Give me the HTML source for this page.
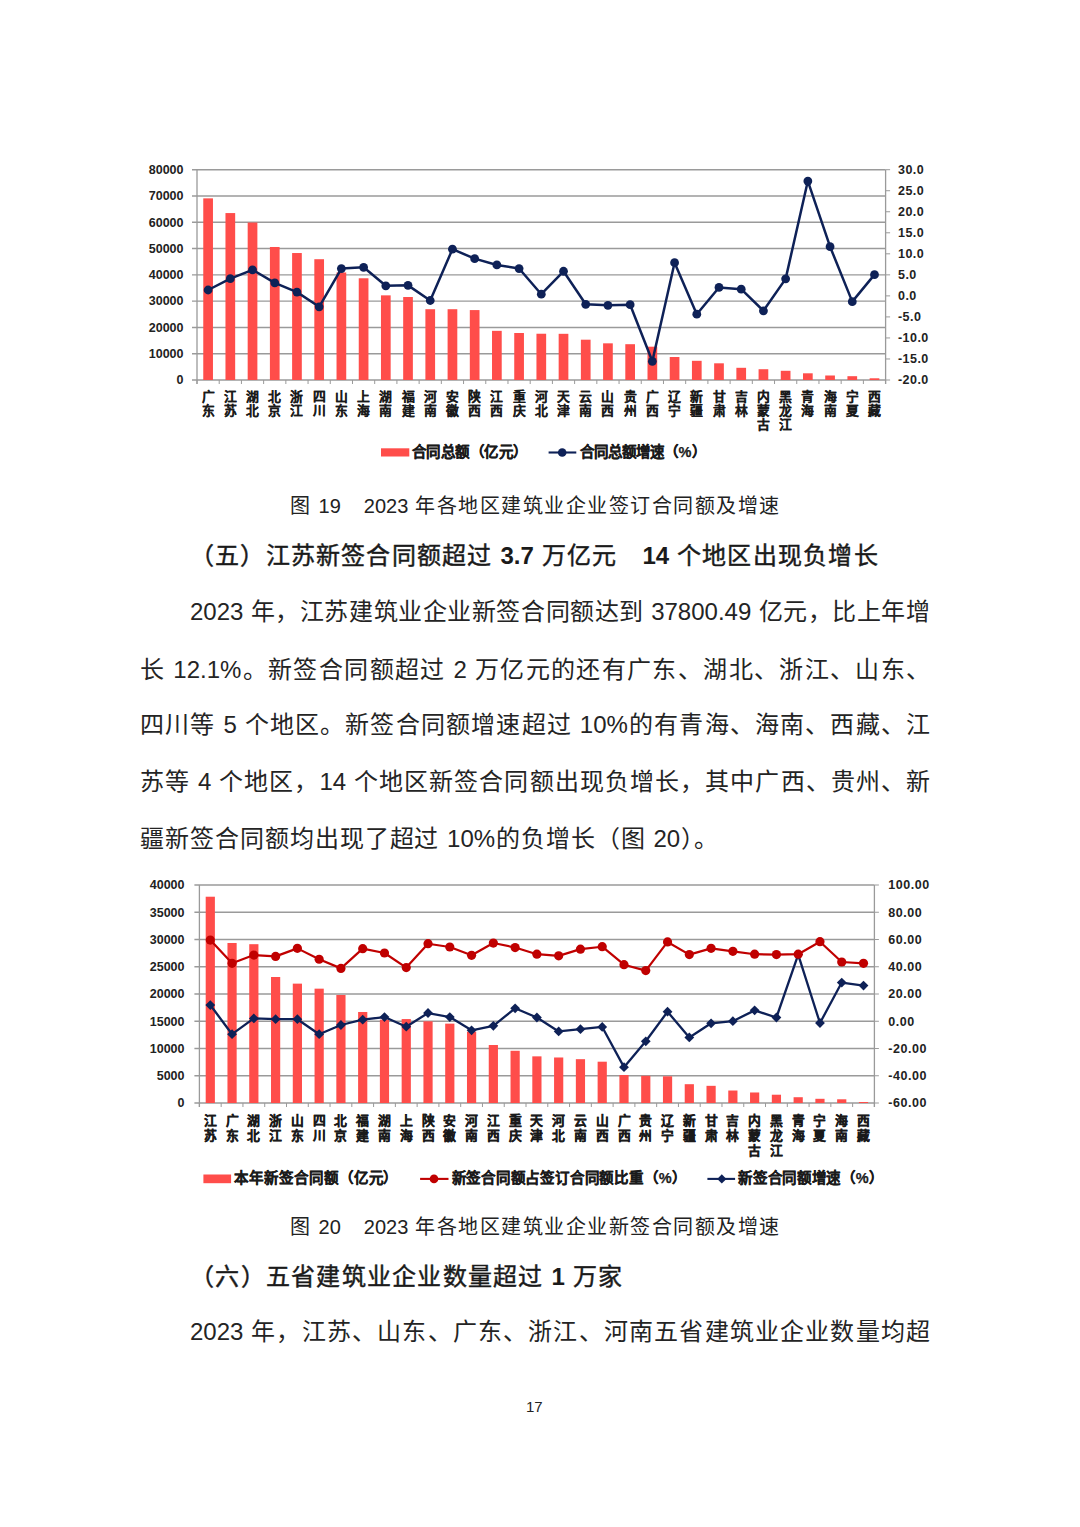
<!DOCTYPE html>
<html lang="zh-CN"><head><meta charset="utf-8">
<style>
html,body{margin:0;padding:0;background:#fff;}
body{width:1080px;height:1527px;position:relative;overflow:hidden;font-family:"Liberation Sans",sans-serif;color:#1a1a1a;}
svg{position:absolute;left:0;top:0;font-family:"Liberation Sans",sans-serif;}
.body{position:absolute;font-size:24px;line-height:30px;white-space:nowrap;color:#242424;}
.h b{-webkit-text-stroke:0;font-weight:bold;}
.cap{position:absolute;font-size:20px;line-height:26px;white-space:nowrap;color:#222;}
.h{position:absolute;font-size:24px;line-height:30px;white-space:nowrap;font-weight:normal;-webkit-text-stroke:0.45px #1a1a1a;color:#1a1a1a;}
.pn{position:absolute;font-size:15px;line-height:20px;white-space:nowrap;color:#222;}
</style></head><body>
<svg width="1080" height="1527" viewBox="0 0 1080 1527">
<line x1="192" y1="169.70" x2="885.6" y2="169.70" stroke="#9A9A9A" stroke-width="1.4"/>
<line x1="192" y1="195.99" x2="885.6" y2="195.99" stroke="#9A9A9A" stroke-width="1.4"/>
<line x1="192" y1="222.27" x2="885.6" y2="222.27" stroke="#9A9A9A" stroke-width="1.4"/>
<line x1="192" y1="248.56" x2="885.6" y2="248.56" stroke="#9A9A9A" stroke-width="1.4"/>
<line x1="192" y1="274.85" x2="885.6" y2="274.85" stroke="#9A9A9A" stroke-width="1.4"/>
<line x1="192" y1="301.14" x2="885.6" y2="301.14" stroke="#9A9A9A" stroke-width="1.4"/>
<line x1="192" y1="327.43" x2="885.6" y2="327.43" stroke="#9A9A9A" stroke-width="1.4"/>
<line x1="192" y1="353.71" x2="885.6" y2="353.71" stroke="#9A9A9A" stroke-width="1.4"/>
<line x1="192" y1="380.00" x2="885.6" y2="380.00" stroke="#9A9A9A" stroke-width="1.4"/>
<line x1="885.6" y1="169.70" x2="890.1" y2="169.70" stroke="#9A9A9A" stroke-width="1"/>
<line x1="885.6" y1="190.73" x2="890.1" y2="190.73" stroke="#9A9A9A" stroke-width="1"/>
<line x1="885.6" y1="211.76" x2="890.1" y2="211.76" stroke="#9A9A9A" stroke-width="1"/>
<line x1="885.6" y1="232.79" x2="890.1" y2="232.79" stroke="#9A9A9A" stroke-width="1"/>
<line x1="885.6" y1="253.82" x2="890.1" y2="253.82" stroke="#9A9A9A" stroke-width="1"/>
<line x1="885.6" y1="274.85" x2="890.1" y2="274.85" stroke="#9A9A9A" stroke-width="1"/>
<line x1="885.6" y1="295.88" x2="890.1" y2="295.88" stroke="#9A9A9A" stroke-width="1"/>
<line x1="885.6" y1="316.91" x2="890.1" y2="316.91" stroke="#9A9A9A" stroke-width="1"/>
<line x1="885.6" y1="337.94" x2="890.1" y2="337.94" stroke="#9A9A9A" stroke-width="1"/>
<line x1="885.6" y1="358.97" x2="890.1" y2="358.97" stroke="#9A9A9A" stroke-width="1"/>
<line x1="885.6" y1="380.00" x2="890.1" y2="380.00" stroke="#9A9A9A" stroke-width="1"/>
<line x1="197" y1="169.7" x2="197" y2="384.0" stroke="#9A9A9A" stroke-width="1.3"/>
<line x1="885.6" y1="169.7" x2="885.6" y2="384.0" stroke="#9A9A9A" stroke-width="1.3"/>
<line x1="197.00" y1="380.0" x2="197.00" y2="384.0" stroke="#9A9A9A" stroke-width="1"/>
<line x1="219.21" y1="380.0" x2="219.21" y2="384.0" stroke="#9A9A9A" stroke-width="1"/>
<line x1="241.43" y1="380.0" x2="241.43" y2="384.0" stroke="#9A9A9A" stroke-width="1"/>
<line x1="263.64" y1="380.0" x2="263.64" y2="384.0" stroke="#9A9A9A" stroke-width="1"/>
<line x1="285.85" y1="380.0" x2="285.85" y2="384.0" stroke="#9A9A9A" stroke-width="1"/>
<line x1="308.06" y1="380.0" x2="308.06" y2="384.0" stroke="#9A9A9A" stroke-width="1"/>
<line x1="330.28" y1="380.0" x2="330.28" y2="384.0" stroke="#9A9A9A" stroke-width="1"/>
<line x1="352.49" y1="380.0" x2="352.49" y2="384.0" stroke="#9A9A9A" stroke-width="1"/>
<line x1="374.70" y1="380.0" x2="374.70" y2="384.0" stroke="#9A9A9A" stroke-width="1"/>
<line x1="396.92" y1="380.0" x2="396.92" y2="384.0" stroke="#9A9A9A" stroke-width="1"/>
<line x1="419.13" y1="380.0" x2="419.13" y2="384.0" stroke="#9A9A9A" stroke-width="1"/>
<line x1="441.34" y1="380.0" x2="441.34" y2="384.0" stroke="#9A9A9A" stroke-width="1"/>
<line x1="463.55" y1="380.0" x2="463.55" y2="384.0" stroke="#9A9A9A" stroke-width="1"/>
<line x1="485.77" y1="380.0" x2="485.77" y2="384.0" stroke="#9A9A9A" stroke-width="1"/>
<line x1="507.98" y1="380.0" x2="507.98" y2="384.0" stroke="#9A9A9A" stroke-width="1"/>
<line x1="530.19" y1="380.0" x2="530.19" y2="384.0" stroke="#9A9A9A" stroke-width="1"/>
<line x1="552.41" y1="380.0" x2="552.41" y2="384.0" stroke="#9A9A9A" stroke-width="1"/>
<line x1="574.62" y1="380.0" x2="574.62" y2="384.0" stroke="#9A9A9A" stroke-width="1"/>
<line x1="596.83" y1="380.0" x2="596.83" y2="384.0" stroke="#9A9A9A" stroke-width="1"/>
<line x1="619.05" y1="380.0" x2="619.05" y2="384.0" stroke="#9A9A9A" stroke-width="1"/>
<line x1="641.26" y1="380.0" x2="641.26" y2="384.0" stroke="#9A9A9A" stroke-width="1"/>
<line x1="663.47" y1="380.0" x2="663.47" y2="384.0" stroke="#9A9A9A" stroke-width="1"/>
<line x1="685.68" y1="380.0" x2="685.68" y2="384.0" stroke="#9A9A9A" stroke-width="1"/>
<line x1="707.90" y1="380.0" x2="707.90" y2="384.0" stroke="#9A9A9A" stroke-width="1"/>
<line x1="730.11" y1="380.0" x2="730.11" y2="384.0" stroke="#9A9A9A" stroke-width="1"/>
<line x1="752.32" y1="380.0" x2="752.32" y2="384.0" stroke="#9A9A9A" stroke-width="1"/>
<line x1="774.54" y1="380.0" x2="774.54" y2="384.0" stroke="#9A9A9A" stroke-width="1"/>
<line x1="796.75" y1="380.0" x2="796.75" y2="384.0" stroke="#9A9A9A" stroke-width="1"/>
<line x1="818.96" y1="380.0" x2="818.96" y2="384.0" stroke="#9A9A9A" stroke-width="1"/>
<line x1="841.17" y1="380.0" x2="841.17" y2="384.0" stroke="#9A9A9A" stroke-width="1"/>
<line x1="863.39" y1="380.0" x2="863.39" y2="384.0" stroke="#9A9A9A" stroke-width="1"/>
<line x1="885.60" y1="380.0" x2="885.60" y2="384.0" stroke="#9A9A9A" stroke-width="1"/>
<rect x="203.26" y="198.35" width="9.7" height="181.65" fill="#FF4D4A"/>
<rect x="225.47" y="213.07" width="9.7" height="166.93" fill="#FF4D4A"/>
<rect x="247.68" y="222.54" width="9.7" height="157.46" fill="#FF4D4A"/>
<rect x="269.90" y="246.99" width="9.7" height="133.01" fill="#FF4D4A"/>
<rect x="292.11" y="253.03" width="9.7" height="126.97" fill="#FF4D4A"/>
<rect x="314.32" y="259.21" width="9.7" height="120.79" fill="#FF4D4A"/>
<rect x="336.53" y="272.48" width="9.7" height="107.52" fill="#FF4D4A"/>
<rect x="358.75" y="278.27" width="9.7" height="101.73" fill="#FF4D4A"/>
<rect x="380.96" y="295.35" width="9.7" height="84.65" fill="#FF4D4A"/>
<rect x="403.17" y="297.01" width="9.7" height="82.99" fill="#FF4D4A"/>
<rect x="425.39" y="309.21" width="9.7" height="70.79" fill="#FF4D4A"/>
<rect x="447.60" y="309.21" width="9.7" height="70.79" fill="#FF4D4A"/>
<rect x="469.81" y="310.08" width="9.7" height="69.92" fill="#FF4D4A"/>
<rect x="492.02" y="330.84" width="9.7" height="49.16" fill="#FF4D4A"/>
<rect x="514.24" y="333.00" width="9.7" height="47.00" fill="#FF4D4A"/>
<rect x="536.45" y="333.73" width="9.7" height="46.27" fill="#FF4D4A"/>
<rect x="558.66" y="333.81" width="9.7" height="46.19" fill="#FF4D4A"/>
<rect x="580.88" y="339.70" width="9.7" height="40.30" fill="#FF4D4A"/>
<rect x="603.09" y="343.33" width="9.7" height="36.67" fill="#FF4D4A"/>
<rect x="625.30" y="344.20" width="9.7" height="35.80" fill="#FF4D4A"/>
<rect x="647.51" y="346.69" width="9.7" height="33.31" fill="#FF4D4A"/>
<rect x="669.73" y="357.00" width="9.7" height="23.00" fill="#FF4D4A"/>
<rect x="691.94" y="360.81" width="9.7" height="19.19" fill="#FF4D4A"/>
<rect x="714.15" y="363.31" width="9.7" height="16.69" fill="#FF4D4A"/>
<rect x="736.37" y="367.80" width="9.7" height="12.20" fill="#FF4D4A"/>
<rect x="758.58" y="369.22" width="9.7" height="10.78" fill="#FF4D4A"/>
<rect x="780.79" y="370.80" width="9.7" height="9.20" fill="#FF4D4A"/>
<rect x="803.00" y="373.30" width="9.7" height="6.70" fill="#FF4D4A"/>
<rect x="825.22" y="375.50" width="9.7" height="4.50" fill="#FF4D4A"/>
<rect x="847.43" y="376.19" width="9.7" height="3.81" fill="#FF4D4A"/>
<rect x="869.64" y="378.29" width="9.7" height="1.71" fill="#FF4D4A"/>
<polyline points="208.11,289.99 230.32,278.64 252.53,269.80 274.75,282.84 296.96,292.09 319.17,306.82 341.38,268.54 363.60,267.28 385.81,285.79 408.02,285.37 430.24,300.51 452.45,249.19 474.66,258.66 496.87,264.97 519.09,268.54 541.30,294.20 563.51,271.27 585.73,304.29 607.94,305.34 630.15,304.71 652.36,361.28 674.58,262.65 696.79,314.18 719.00,287.47 741.22,289.15 763.43,310.81 785.64,278.85 807.85,181.06 830.07,246.67 852.28,301.64 874.49,274.64" fill="none" stroke="#0E2157" stroke-width="2.5" stroke-linejoin="round"/>
<circle cx="208.11" cy="289.99" r="4.4" fill="#0E2157"/>
<circle cx="230.32" cy="278.64" r="4.4" fill="#0E2157"/>
<circle cx="252.53" cy="269.80" r="4.4" fill="#0E2157"/>
<circle cx="274.75" cy="282.84" r="4.4" fill="#0E2157"/>
<circle cx="296.96" cy="292.09" r="4.4" fill="#0E2157"/>
<circle cx="319.17" cy="306.82" r="4.4" fill="#0E2157"/>
<circle cx="341.38" cy="268.54" r="4.4" fill="#0E2157"/>
<circle cx="363.60" cy="267.28" r="4.4" fill="#0E2157"/>
<circle cx="385.81" cy="285.79" r="4.4" fill="#0E2157"/>
<circle cx="408.02" cy="285.37" r="4.4" fill="#0E2157"/>
<circle cx="430.24" cy="300.51" r="4.4" fill="#0E2157"/>
<circle cx="452.45" cy="249.19" r="4.4" fill="#0E2157"/>
<circle cx="474.66" cy="258.66" r="4.4" fill="#0E2157"/>
<circle cx="496.87" cy="264.97" r="4.4" fill="#0E2157"/>
<circle cx="519.09" cy="268.54" r="4.4" fill="#0E2157"/>
<circle cx="541.30" cy="294.20" r="4.4" fill="#0E2157"/>
<circle cx="563.51" cy="271.27" r="4.4" fill="#0E2157"/>
<circle cx="585.73" cy="304.29" r="4.4" fill="#0E2157"/>
<circle cx="607.94" cy="305.34" r="4.4" fill="#0E2157"/>
<circle cx="630.15" cy="304.71" r="4.4" fill="#0E2157"/>
<circle cx="652.36" cy="361.28" r="4.4" fill="#0E2157"/>
<circle cx="674.58" cy="262.65" r="4.4" fill="#0E2157"/>
<circle cx="696.79" cy="314.18" r="4.4" fill="#0E2157"/>
<circle cx="719.00" cy="287.47" r="4.4" fill="#0E2157"/>
<circle cx="741.22" cy="289.15" r="4.4" fill="#0E2157"/>
<circle cx="763.43" cy="310.81" r="4.4" fill="#0E2157"/>
<circle cx="785.64" cy="278.85" r="4.4" fill="#0E2157"/>
<circle cx="807.85" cy="181.06" r="4.4" fill="#0E2157"/>
<circle cx="830.07" cy="246.67" r="4.4" fill="#0E2157"/>
<circle cx="852.28" cy="301.64" r="4.4" fill="#0E2157"/>
<circle cx="874.49" cy="274.64" r="4.4" fill="#0E2157"/>
<text x="183.5" y="384.30" text-anchor="end" font-size="12.5" font-weight="bold" fill="#222">0</text>
<text x="183.5" y="358.01" text-anchor="end" font-size="12.5" font-weight="bold" fill="#222">10000</text>
<text x="183.5" y="331.73" text-anchor="end" font-size="12.5" font-weight="bold" fill="#222">20000</text>
<text x="183.5" y="305.44" text-anchor="end" font-size="12.5" font-weight="bold" fill="#222">30000</text>
<text x="183.5" y="279.15" text-anchor="end" font-size="12.5" font-weight="bold" fill="#222">40000</text>
<text x="183.5" y="252.86" text-anchor="end" font-size="12.5" font-weight="bold" fill="#222">50000</text>
<text x="183.5" y="226.57" text-anchor="end" font-size="12.5" font-weight="bold" fill="#222">60000</text>
<text x="183.5" y="200.29" text-anchor="end" font-size="12.5" font-weight="bold" fill="#222">70000</text>
<text x="183.5" y="174.00" text-anchor="end" font-size="12.5" font-weight="bold" fill="#222">80000</text>
<text x="898" y="174.00" font-size="12.5" font-weight="bold" letter-spacing="0.45" fill="#222">30.0</text>
<text x="898" y="195.03" font-size="12.5" font-weight="bold" letter-spacing="0.45" fill="#222">25.0</text>
<text x="898" y="216.06" font-size="12.5" font-weight="bold" letter-spacing="0.45" fill="#222">20.0</text>
<text x="898" y="237.09" font-size="12.5" font-weight="bold" letter-spacing="0.45" fill="#222">15.0</text>
<text x="898" y="258.12" font-size="12.5" font-weight="bold" letter-spacing="0.45" fill="#222">10.0</text>
<text x="898" y="279.15" font-size="12.5" font-weight="bold" letter-spacing="0.45" fill="#222">5.0</text>
<text x="898" y="300.18" font-size="12.5" font-weight="bold" letter-spacing="0.45" fill="#222">0.0</text>
<text x="898" y="321.21" font-size="12.5" font-weight="bold" letter-spacing="0.45" fill="#222">-5.0</text>
<text x="898" y="342.24" font-size="12.5" font-weight="bold" letter-spacing="0.45" fill="#222">-10.0</text>
<text x="898" y="363.27" font-size="12.5" font-weight="bold" letter-spacing="0.45" fill="#222">-15.0</text>
<text x="898" y="384.30" font-size="12.5" font-weight="bold" letter-spacing="0.45" fill="#222">-20.0</text>
<text x="208.11" y="400.80" text-anchor="middle" font-size="12.8" font-weight="bold" fill="#1a1a1a" stroke="#1a1a1a" stroke-width="0.15">广</text>
<text x="208.11" y="415.00" text-anchor="middle" font-size="12.8" font-weight="bold" fill="#1a1a1a" stroke="#1a1a1a" stroke-width="0.15">东</text>
<text x="230.32" y="400.80" text-anchor="middle" font-size="12.8" font-weight="bold" fill="#1a1a1a" stroke="#1a1a1a" stroke-width="0.15">江</text>
<text x="230.32" y="415.00" text-anchor="middle" font-size="12.8" font-weight="bold" fill="#1a1a1a" stroke="#1a1a1a" stroke-width="0.15">苏</text>
<text x="252.53" y="400.80" text-anchor="middle" font-size="12.8" font-weight="bold" fill="#1a1a1a" stroke="#1a1a1a" stroke-width="0.15">湖</text>
<text x="252.53" y="415.00" text-anchor="middle" font-size="12.8" font-weight="bold" fill="#1a1a1a" stroke="#1a1a1a" stroke-width="0.15">北</text>
<text x="274.75" y="400.80" text-anchor="middle" font-size="12.8" font-weight="bold" fill="#1a1a1a" stroke="#1a1a1a" stroke-width="0.15">北</text>
<text x="274.75" y="415.00" text-anchor="middle" font-size="12.8" font-weight="bold" fill="#1a1a1a" stroke="#1a1a1a" stroke-width="0.15">京</text>
<text x="296.96" y="400.80" text-anchor="middle" font-size="12.8" font-weight="bold" fill="#1a1a1a" stroke="#1a1a1a" stroke-width="0.15">浙</text>
<text x="296.96" y="415.00" text-anchor="middle" font-size="12.8" font-weight="bold" fill="#1a1a1a" stroke="#1a1a1a" stroke-width="0.15">江</text>
<text x="319.17" y="400.80" text-anchor="middle" font-size="12.8" font-weight="bold" fill="#1a1a1a" stroke="#1a1a1a" stroke-width="0.15">四</text>
<text x="319.17" y="415.00" text-anchor="middle" font-size="12.8" font-weight="bold" fill="#1a1a1a" stroke="#1a1a1a" stroke-width="0.15">川</text>
<text x="341.38" y="400.80" text-anchor="middle" font-size="12.8" font-weight="bold" fill="#1a1a1a" stroke="#1a1a1a" stroke-width="0.15">山</text>
<text x="341.38" y="415.00" text-anchor="middle" font-size="12.8" font-weight="bold" fill="#1a1a1a" stroke="#1a1a1a" stroke-width="0.15">东</text>
<text x="363.60" y="400.80" text-anchor="middle" font-size="12.8" font-weight="bold" fill="#1a1a1a" stroke="#1a1a1a" stroke-width="0.15">上</text>
<text x="363.60" y="415.00" text-anchor="middle" font-size="12.8" font-weight="bold" fill="#1a1a1a" stroke="#1a1a1a" stroke-width="0.15">海</text>
<text x="385.81" y="400.80" text-anchor="middle" font-size="12.8" font-weight="bold" fill="#1a1a1a" stroke="#1a1a1a" stroke-width="0.15">湖</text>
<text x="385.81" y="415.00" text-anchor="middle" font-size="12.8" font-weight="bold" fill="#1a1a1a" stroke="#1a1a1a" stroke-width="0.15">南</text>
<text x="408.02" y="400.80" text-anchor="middle" font-size="12.8" font-weight="bold" fill="#1a1a1a" stroke="#1a1a1a" stroke-width="0.15">福</text>
<text x="408.02" y="415.00" text-anchor="middle" font-size="12.8" font-weight="bold" fill="#1a1a1a" stroke="#1a1a1a" stroke-width="0.15">建</text>
<text x="430.24" y="400.80" text-anchor="middle" font-size="12.8" font-weight="bold" fill="#1a1a1a" stroke="#1a1a1a" stroke-width="0.15">河</text>
<text x="430.24" y="415.00" text-anchor="middle" font-size="12.8" font-weight="bold" fill="#1a1a1a" stroke="#1a1a1a" stroke-width="0.15">南</text>
<text x="452.45" y="400.80" text-anchor="middle" font-size="12.8" font-weight="bold" fill="#1a1a1a" stroke="#1a1a1a" stroke-width="0.15">安</text>
<text x="452.45" y="415.00" text-anchor="middle" font-size="12.8" font-weight="bold" fill="#1a1a1a" stroke="#1a1a1a" stroke-width="0.15">徽</text>
<text x="474.66" y="400.80" text-anchor="middle" font-size="12.8" font-weight="bold" fill="#1a1a1a" stroke="#1a1a1a" stroke-width="0.15">陕</text>
<text x="474.66" y="415.00" text-anchor="middle" font-size="12.8" font-weight="bold" fill="#1a1a1a" stroke="#1a1a1a" stroke-width="0.15">西</text>
<text x="496.87" y="400.80" text-anchor="middle" font-size="12.8" font-weight="bold" fill="#1a1a1a" stroke="#1a1a1a" stroke-width="0.15">江</text>
<text x="496.87" y="415.00" text-anchor="middle" font-size="12.8" font-weight="bold" fill="#1a1a1a" stroke="#1a1a1a" stroke-width="0.15">西</text>
<text x="519.09" y="400.80" text-anchor="middle" font-size="12.8" font-weight="bold" fill="#1a1a1a" stroke="#1a1a1a" stroke-width="0.15">重</text>
<text x="519.09" y="415.00" text-anchor="middle" font-size="12.8" font-weight="bold" fill="#1a1a1a" stroke="#1a1a1a" stroke-width="0.15">庆</text>
<text x="541.30" y="400.80" text-anchor="middle" font-size="12.8" font-weight="bold" fill="#1a1a1a" stroke="#1a1a1a" stroke-width="0.15">河</text>
<text x="541.30" y="415.00" text-anchor="middle" font-size="12.8" font-weight="bold" fill="#1a1a1a" stroke="#1a1a1a" stroke-width="0.15">北</text>
<text x="563.51" y="400.80" text-anchor="middle" font-size="12.8" font-weight="bold" fill="#1a1a1a" stroke="#1a1a1a" stroke-width="0.15">天</text>
<text x="563.51" y="415.00" text-anchor="middle" font-size="12.8" font-weight="bold" fill="#1a1a1a" stroke="#1a1a1a" stroke-width="0.15">津</text>
<text x="585.73" y="400.80" text-anchor="middle" font-size="12.8" font-weight="bold" fill="#1a1a1a" stroke="#1a1a1a" stroke-width="0.15">云</text>
<text x="585.73" y="415.00" text-anchor="middle" font-size="12.8" font-weight="bold" fill="#1a1a1a" stroke="#1a1a1a" stroke-width="0.15">南</text>
<text x="607.94" y="400.80" text-anchor="middle" font-size="12.8" font-weight="bold" fill="#1a1a1a" stroke="#1a1a1a" stroke-width="0.15">山</text>
<text x="607.94" y="415.00" text-anchor="middle" font-size="12.8" font-weight="bold" fill="#1a1a1a" stroke="#1a1a1a" stroke-width="0.15">西</text>
<text x="630.15" y="400.80" text-anchor="middle" font-size="12.8" font-weight="bold" fill="#1a1a1a" stroke="#1a1a1a" stroke-width="0.15">贵</text>
<text x="630.15" y="415.00" text-anchor="middle" font-size="12.8" font-weight="bold" fill="#1a1a1a" stroke="#1a1a1a" stroke-width="0.15">州</text>
<text x="652.36" y="400.80" text-anchor="middle" font-size="12.8" font-weight="bold" fill="#1a1a1a" stroke="#1a1a1a" stroke-width="0.15">广</text>
<text x="652.36" y="415.00" text-anchor="middle" font-size="12.8" font-weight="bold" fill="#1a1a1a" stroke="#1a1a1a" stroke-width="0.15">西</text>
<text x="674.58" y="400.80" text-anchor="middle" font-size="12.8" font-weight="bold" fill="#1a1a1a" stroke="#1a1a1a" stroke-width="0.15">辽</text>
<text x="674.58" y="415.00" text-anchor="middle" font-size="12.8" font-weight="bold" fill="#1a1a1a" stroke="#1a1a1a" stroke-width="0.15">宁</text>
<text x="696.79" y="400.80" text-anchor="middle" font-size="12.8" font-weight="bold" fill="#1a1a1a" stroke="#1a1a1a" stroke-width="0.15">新</text>
<text x="696.79" y="415.00" text-anchor="middle" font-size="12.8" font-weight="bold" fill="#1a1a1a" stroke="#1a1a1a" stroke-width="0.15">疆</text>
<text x="719.00" y="400.80" text-anchor="middle" font-size="12.8" font-weight="bold" fill="#1a1a1a" stroke="#1a1a1a" stroke-width="0.15">甘</text>
<text x="719.00" y="415.00" text-anchor="middle" font-size="12.8" font-weight="bold" fill="#1a1a1a" stroke="#1a1a1a" stroke-width="0.15">肃</text>
<text x="741.22" y="400.80" text-anchor="middle" font-size="12.8" font-weight="bold" fill="#1a1a1a" stroke="#1a1a1a" stroke-width="0.15">吉</text>
<text x="741.22" y="415.00" text-anchor="middle" font-size="12.8" font-weight="bold" fill="#1a1a1a" stroke="#1a1a1a" stroke-width="0.15">林</text>
<text x="763.43" y="400.80" text-anchor="middle" font-size="12.8" font-weight="bold" fill="#1a1a1a" stroke="#1a1a1a" stroke-width="0.15">内</text>
<text x="763.43" y="415.00" text-anchor="middle" font-size="12.8" font-weight="bold" fill="#1a1a1a" stroke="#1a1a1a" stroke-width="0.15">蒙</text>
<text x="763.43" y="429.20" text-anchor="middle" font-size="12.8" font-weight="bold" fill="#1a1a1a" stroke="#1a1a1a" stroke-width="0.15">古</text>
<text x="785.64" y="400.80" text-anchor="middle" font-size="12.8" font-weight="bold" fill="#1a1a1a" stroke="#1a1a1a" stroke-width="0.15">黑</text>
<text x="785.64" y="415.00" text-anchor="middle" font-size="12.8" font-weight="bold" fill="#1a1a1a" stroke="#1a1a1a" stroke-width="0.15">龙</text>
<text x="785.64" y="429.20" text-anchor="middle" font-size="12.8" font-weight="bold" fill="#1a1a1a" stroke="#1a1a1a" stroke-width="0.15">江</text>
<text x="807.85" y="400.80" text-anchor="middle" font-size="12.8" font-weight="bold" fill="#1a1a1a" stroke="#1a1a1a" stroke-width="0.15">青</text>
<text x="807.85" y="415.00" text-anchor="middle" font-size="12.8" font-weight="bold" fill="#1a1a1a" stroke="#1a1a1a" stroke-width="0.15">海</text>
<text x="830.07" y="400.80" text-anchor="middle" font-size="12.8" font-weight="bold" fill="#1a1a1a" stroke="#1a1a1a" stroke-width="0.15">海</text>
<text x="830.07" y="415.00" text-anchor="middle" font-size="12.8" font-weight="bold" fill="#1a1a1a" stroke="#1a1a1a" stroke-width="0.15">南</text>
<text x="852.28" y="400.80" text-anchor="middle" font-size="12.8" font-weight="bold" fill="#1a1a1a" stroke="#1a1a1a" stroke-width="0.15">宁</text>
<text x="852.28" y="415.00" text-anchor="middle" font-size="12.8" font-weight="bold" fill="#1a1a1a" stroke="#1a1a1a" stroke-width="0.15">夏</text>
<text x="874.49" y="400.80" text-anchor="middle" font-size="12.8" font-weight="bold" fill="#1a1a1a" stroke="#1a1a1a" stroke-width="0.15">西</text>
<text x="874.49" y="415.00" text-anchor="middle" font-size="12.8" font-weight="bold" fill="#1a1a1a" stroke="#1a1a1a" stroke-width="0.15">藏</text>
<rect x="381" y="448.3" width="28.3" height="8.2" fill="#FF4D4A"/>
<text x="411.5" y="456.7" font-size="14.5" font-weight="bold" stroke="#1a1a1a" stroke-width="0.25" letter-spacing="0.5" fill="#222">合同总额（亿元）</text>
<line x1="548.6" y1="452.5" x2="576.3" y2="452.5" stroke="#0E2157" stroke-width="2.1"/>
<circle cx="562.2" cy="452.5" r="4.3" fill="#0E2157"/>
<text x="579.5" y="456.7" font-size="14.5" font-weight="bold" stroke="#1a1a1a" stroke-width="0.25" letter-spacing="0.15" fill="#222">合同总额增速（%）</text>
<line x1="194.4" y1="885.00" x2="874.4" y2="885.00" stroke="#9A9A9A" stroke-width="1.4"/>
<line x1="194.4" y1="912.25" x2="874.4" y2="912.25" stroke="#9A9A9A" stroke-width="1.4"/>
<line x1="194.4" y1="939.50" x2="874.4" y2="939.50" stroke="#9A9A9A" stroke-width="1.4"/>
<line x1="194.4" y1="966.75" x2="874.4" y2="966.75" stroke="#9A9A9A" stroke-width="1.4"/>
<line x1="194.4" y1="994.00" x2="874.4" y2="994.00" stroke="#9A9A9A" stroke-width="1.4"/>
<line x1="194.4" y1="1021.25" x2="874.4" y2="1021.25" stroke="#9A9A9A" stroke-width="1.4"/>
<line x1="194.4" y1="1048.50" x2="874.4" y2="1048.50" stroke="#9A9A9A" stroke-width="1.4"/>
<line x1="194.4" y1="1075.75" x2="874.4" y2="1075.75" stroke="#9A9A9A" stroke-width="1.4"/>
<line x1="194.4" y1="1103.00" x2="874.4" y2="1103.00" stroke="#9A9A9A" stroke-width="1.4"/>
<line x1="874.4" y1="885.00" x2="878.9" y2="885.00" stroke="#9A9A9A" stroke-width="1"/>
<line x1="874.4" y1="912.25" x2="878.9" y2="912.25" stroke="#9A9A9A" stroke-width="1"/>
<line x1="874.4" y1="939.50" x2="878.9" y2="939.50" stroke="#9A9A9A" stroke-width="1"/>
<line x1="874.4" y1="966.75" x2="878.9" y2="966.75" stroke="#9A9A9A" stroke-width="1"/>
<line x1="874.4" y1="994.00" x2="878.9" y2="994.00" stroke="#9A9A9A" stroke-width="1"/>
<line x1="874.4" y1="1021.25" x2="878.9" y2="1021.25" stroke="#9A9A9A" stroke-width="1"/>
<line x1="874.4" y1="1048.50" x2="878.9" y2="1048.50" stroke="#9A9A9A" stroke-width="1"/>
<line x1="874.4" y1="1075.75" x2="878.9" y2="1075.75" stroke="#9A9A9A" stroke-width="1"/>
<line x1="874.4" y1="1103.00" x2="878.9" y2="1103.00" stroke="#9A9A9A" stroke-width="1"/>
<line x1="199.4" y1="885.0" x2="199.4" y2="1107.0" stroke="#9A9A9A" stroke-width="1.3"/>
<line x1="874.4" y1="885.0" x2="874.4" y2="1107.0" stroke="#9A9A9A" stroke-width="1.3"/>
<line x1="199.40" y1="1103.0" x2="199.40" y2="1107.0" stroke="#9A9A9A" stroke-width="1"/>
<line x1="221.17" y1="1103.0" x2="221.17" y2="1107.0" stroke="#9A9A9A" stroke-width="1"/>
<line x1="242.95" y1="1103.0" x2="242.95" y2="1107.0" stroke="#9A9A9A" stroke-width="1"/>
<line x1="264.72" y1="1103.0" x2="264.72" y2="1107.0" stroke="#9A9A9A" stroke-width="1"/>
<line x1="286.50" y1="1103.0" x2="286.50" y2="1107.0" stroke="#9A9A9A" stroke-width="1"/>
<line x1="308.27" y1="1103.0" x2="308.27" y2="1107.0" stroke="#9A9A9A" stroke-width="1"/>
<line x1="330.05" y1="1103.0" x2="330.05" y2="1107.0" stroke="#9A9A9A" stroke-width="1"/>
<line x1="351.82" y1="1103.0" x2="351.82" y2="1107.0" stroke="#9A9A9A" stroke-width="1"/>
<line x1="373.59" y1="1103.0" x2="373.59" y2="1107.0" stroke="#9A9A9A" stroke-width="1"/>
<line x1="395.37" y1="1103.0" x2="395.37" y2="1107.0" stroke="#9A9A9A" stroke-width="1"/>
<line x1="417.14" y1="1103.0" x2="417.14" y2="1107.0" stroke="#9A9A9A" stroke-width="1"/>
<line x1="438.92" y1="1103.0" x2="438.92" y2="1107.0" stroke="#9A9A9A" stroke-width="1"/>
<line x1="460.69" y1="1103.0" x2="460.69" y2="1107.0" stroke="#9A9A9A" stroke-width="1"/>
<line x1="482.46" y1="1103.0" x2="482.46" y2="1107.0" stroke="#9A9A9A" stroke-width="1"/>
<line x1="504.24" y1="1103.0" x2="504.24" y2="1107.0" stroke="#9A9A9A" stroke-width="1"/>
<line x1="526.01" y1="1103.0" x2="526.01" y2="1107.0" stroke="#9A9A9A" stroke-width="1"/>
<line x1="547.79" y1="1103.0" x2="547.79" y2="1107.0" stroke="#9A9A9A" stroke-width="1"/>
<line x1="569.56" y1="1103.0" x2="569.56" y2="1107.0" stroke="#9A9A9A" stroke-width="1"/>
<line x1="591.34" y1="1103.0" x2="591.34" y2="1107.0" stroke="#9A9A9A" stroke-width="1"/>
<line x1="613.11" y1="1103.0" x2="613.11" y2="1107.0" stroke="#9A9A9A" stroke-width="1"/>
<line x1="634.88" y1="1103.0" x2="634.88" y2="1107.0" stroke="#9A9A9A" stroke-width="1"/>
<line x1="656.66" y1="1103.0" x2="656.66" y2="1107.0" stroke="#9A9A9A" stroke-width="1"/>
<line x1="678.43" y1="1103.0" x2="678.43" y2="1107.0" stroke="#9A9A9A" stroke-width="1"/>
<line x1="700.21" y1="1103.0" x2="700.21" y2="1107.0" stroke="#9A9A9A" stroke-width="1"/>
<line x1="721.98" y1="1103.0" x2="721.98" y2="1107.0" stroke="#9A9A9A" stroke-width="1"/>
<line x1="743.75" y1="1103.0" x2="743.75" y2="1107.0" stroke="#9A9A9A" stroke-width="1"/>
<line x1="765.53" y1="1103.0" x2="765.53" y2="1107.0" stroke="#9A9A9A" stroke-width="1"/>
<line x1="787.30" y1="1103.0" x2="787.30" y2="1107.0" stroke="#9A9A9A" stroke-width="1"/>
<line x1="809.08" y1="1103.0" x2="809.08" y2="1107.0" stroke="#9A9A9A" stroke-width="1"/>
<line x1="830.85" y1="1103.0" x2="830.85" y2="1107.0" stroke="#9A9A9A" stroke-width="1"/>
<line x1="852.63" y1="1103.0" x2="852.63" y2="1107.0" stroke="#9A9A9A" stroke-width="1"/>
<line x1="874.40" y1="1103.0" x2="874.40" y2="1107.0" stroke="#9A9A9A" stroke-width="1"/>
<rect x="205.69" y="896.72" width="9.2" height="206.28" fill="#FF4D4A"/>
<rect x="227.46" y="942.99" width="9.2" height="160.01" fill="#FF4D4A"/>
<rect x="249.24" y="944.19" width="9.2" height="158.81" fill="#FF4D4A"/>
<rect x="271.01" y="977.00" width="9.2" height="126.00" fill="#FF4D4A"/>
<rect x="292.78" y="983.64" width="9.2" height="119.36" fill="#FF4D4A"/>
<rect x="314.56" y="988.66" width="9.2" height="114.34" fill="#FF4D4A"/>
<rect x="336.33" y="994.98" width="9.2" height="108.02" fill="#FF4D4A"/>
<rect x="358.11" y="1011.99" width="9.2" height="91.02" fill="#FF4D4A"/>
<rect x="379.88" y="1019.67" width="9.2" height="83.33" fill="#FF4D4A"/>
<rect x="401.65" y="1019.07" width="9.2" height="83.93" fill="#FF4D4A"/>
<rect x="423.43" y="1021.30" width="9.2" height="81.70" fill="#FF4D4A"/>
<rect x="445.20" y="1023.65" width="9.2" height="79.35" fill="#FF4D4A"/>
<rect x="466.98" y="1031.66" width="9.2" height="71.34" fill="#FF4D4A"/>
<rect x="488.75" y="1045.01" width="9.2" height="57.99" fill="#FF4D4A"/>
<rect x="510.53" y="1050.79" width="9.2" height="52.21" fill="#FF4D4A"/>
<rect x="532.30" y="1056.35" width="9.2" height="46.65" fill="#FF4D4A"/>
<rect x="554.07" y="1057.49" width="9.2" height="45.51" fill="#FF4D4A"/>
<rect x="575.85" y="1059.18" width="9.2" height="43.82" fill="#FF4D4A"/>
<rect x="597.62" y="1061.69" width="9.2" height="41.31" fill="#FF4D4A"/>
<rect x="619.40" y="1074.99" width="9.2" height="28.01" fill="#FF4D4A"/>
<rect x="641.17" y="1075.80" width="9.2" height="27.20" fill="#FF4D4A"/>
<rect x="662.95" y="1076.30" width="9.2" height="26.70" fill="#FF4D4A"/>
<rect x="684.72" y="1084.20" width="9.2" height="18.80" fill="#FF4D4A"/>
<rect x="706.49" y="1085.83" width="9.2" height="17.17" fill="#FF4D4A"/>
<rect x="728.27" y="1090.52" width="9.2" height="12.48" fill="#FF4D4A"/>
<rect x="750.04" y="1092.48" width="9.2" height="10.52" fill="#FF4D4A"/>
<rect x="771.82" y="1094.72" width="9.2" height="8.28" fill="#FF4D4A"/>
<rect x="793.59" y="1097.22" width="9.2" height="5.78" fill="#FF4D4A"/>
<rect x="815.36" y="1098.80" width="9.2" height="4.20" fill="#FF4D4A"/>
<rect x="837.14" y="1099.29" width="9.2" height="3.71" fill="#FF4D4A"/>
<rect x="858.91" y="1102.02" width="9.2" height="0.98" fill="#FF4D4A"/>
<polyline points="210.29,1005.04 232.06,1034.19 253.84,1018.39 275.61,1019.21 297.38,1019.21 319.16,1034.19 340.93,1025.00 362.71,1019.68 384.48,1017.03 406.25,1026.70 428.03,1013.01 449.80,1017.03 471.58,1030.31 493.35,1025.81 515.13,1008.31 536.90,1017.50 558.67,1031.47 580.45,1029.15 602.22,1026.97 624.00,1067.17 645.77,1041.28 667.55,1011.71 689.32,1037.46 711.09,1023.29 732.87,1021.18 754.64,1010.35 776.42,1017.50 798.19,954.62 819.96,1023.02 841.74,982.55 863.51,985.55" fill="none" stroke="#0E2157" stroke-width="2.3" stroke-linejoin="round"/>
<path d="M210.29 1000.14L215.19 1005.04L210.29 1009.94L205.39 1005.04Z" fill="#0E2157"/>
<path d="M232.06 1029.29L236.96 1034.19L232.06 1039.09L227.16 1034.19Z" fill="#0E2157"/>
<path d="M253.84 1013.49L258.74 1018.39L253.84 1023.29L248.94 1018.39Z" fill="#0E2157"/>
<path d="M275.61 1014.31L280.51 1019.21L275.61 1024.11L270.71 1019.21Z" fill="#0E2157"/>
<path d="M297.38 1014.31L302.28 1019.21L297.38 1024.11L292.48 1019.21Z" fill="#0E2157"/>
<path d="M319.16 1029.29L324.06 1034.19L319.16 1039.09L314.26 1034.19Z" fill="#0E2157"/>
<path d="M340.93 1020.10L345.83 1025.00L340.93 1029.90L336.03 1025.00Z" fill="#0E2157"/>
<path d="M362.71 1014.78L367.61 1019.68L362.71 1024.58L357.81 1019.68Z" fill="#0E2157"/>
<path d="M384.48 1012.13L389.38 1017.03L384.48 1021.93L379.58 1017.03Z" fill="#0E2157"/>
<path d="M406.25 1021.80L411.15 1026.70L406.25 1031.60L401.35 1026.70Z" fill="#0E2157"/>
<path d="M428.03 1008.11L432.93 1013.01L428.03 1017.91L423.13 1013.01Z" fill="#0E2157"/>
<path d="M449.80 1012.13L454.70 1017.03L449.80 1021.93L444.90 1017.03Z" fill="#0E2157"/>
<path d="M471.58 1025.41L476.48 1030.31L471.58 1035.21L466.68 1030.31Z" fill="#0E2157"/>
<path d="M493.35 1020.91L498.25 1025.81L493.35 1030.71L488.45 1025.81Z" fill="#0E2157"/>
<path d="M515.13 1003.41L520.03 1008.31L515.13 1013.21L510.23 1008.31Z" fill="#0E2157"/>
<path d="M536.90 1012.60L541.80 1017.50L536.90 1022.40L532.00 1017.50Z" fill="#0E2157"/>
<path d="M558.67 1026.57L563.57 1031.47L558.67 1036.37L553.77 1031.47Z" fill="#0E2157"/>
<path d="M580.45 1024.25L585.35 1029.15L580.45 1034.05L575.55 1029.15Z" fill="#0E2157"/>
<path d="M602.22 1022.07L607.12 1026.97L602.22 1031.87L597.32 1026.97Z" fill="#0E2157"/>
<path d="M624.00 1062.27L628.90 1067.17L624.00 1072.07L619.10 1067.17Z" fill="#0E2157"/>
<path d="M645.77 1036.38L650.67 1041.28L645.77 1046.18L640.87 1041.28Z" fill="#0E2157"/>
<path d="M667.55 1006.81L672.45 1011.71L667.55 1016.61L662.65 1011.71Z" fill="#0E2157"/>
<path d="M689.32 1032.56L694.22 1037.46L689.32 1042.36L684.42 1037.46Z" fill="#0E2157"/>
<path d="M711.09 1018.39L715.99 1023.29L711.09 1028.19L706.19 1023.29Z" fill="#0E2157"/>
<path d="M732.87 1016.28L737.77 1021.18L732.87 1026.08L727.97 1021.18Z" fill="#0E2157"/>
<path d="M754.64 1005.45L759.54 1010.35L754.64 1015.25L749.74 1010.35Z" fill="#0E2157"/>
<path d="M776.42 1012.60L781.32 1017.50L776.42 1022.40L771.52 1017.50Z" fill="#0E2157"/>
<path d="M798.19 949.72L803.09 954.62L798.19 959.52L793.29 954.62Z" fill="#0E2157"/>
<path d="M819.96 1018.12L824.86 1023.02L819.96 1027.92L815.06 1023.02Z" fill="#0E2157"/>
<path d="M841.74 977.65L846.64 982.55L841.74 987.45L836.84 982.55Z" fill="#0E2157"/>
<path d="M863.51 980.65L868.41 985.55L863.51 990.45L858.61 985.55Z" fill="#0E2157"/>
<polyline points="210.29,940.04 232.06,963.34 253.84,955.03 275.61,956.39 297.38,948.36 319.16,959.26 340.93,968.38 362.71,948.63 384.48,952.99 406.25,967.57 428.03,943.72 449.80,946.99 471.58,955.31 493.35,943.04 515.13,947.54 536.90,954.22 558.67,955.85 580.45,949.17 602.22,946.72 624.00,964.71 645.77,970.57 667.55,941.95 689.32,954.62 711.09,948.36 732.87,951.35 754.64,954.22 776.42,954.62 798.19,954.22 819.96,941.68 841.74,961.98 863.51,963.34" fill="none" stroke="#C00000" stroke-width="2.2" stroke-linejoin="round"/>
<circle cx="210.29" cy="940.04" r="4.6" fill="#C00000"/>
<circle cx="232.06" cy="963.34" r="4.6" fill="#C00000"/>
<circle cx="253.84" cy="955.03" r="4.6" fill="#C00000"/>
<circle cx="275.61" cy="956.39" r="4.6" fill="#C00000"/>
<circle cx="297.38" cy="948.36" r="4.6" fill="#C00000"/>
<circle cx="319.16" cy="959.26" r="4.6" fill="#C00000"/>
<circle cx="340.93" cy="968.38" r="4.6" fill="#C00000"/>
<circle cx="362.71" cy="948.63" r="4.6" fill="#C00000"/>
<circle cx="384.48" cy="952.99" r="4.6" fill="#C00000"/>
<circle cx="406.25" cy="967.57" r="4.6" fill="#C00000"/>
<circle cx="428.03" cy="943.72" r="4.6" fill="#C00000"/>
<circle cx="449.80" cy="946.99" r="4.6" fill="#C00000"/>
<circle cx="471.58" cy="955.31" r="4.6" fill="#C00000"/>
<circle cx="493.35" cy="943.04" r="4.6" fill="#C00000"/>
<circle cx="515.13" cy="947.54" r="4.6" fill="#C00000"/>
<circle cx="536.90" cy="954.22" r="4.6" fill="#C00000"/>
<circle cx="558.67" cy="955.85" r="4.6" fill="#C00000"/>
<circle cx="580.45" cy="949.17" r="4.6" fill="#C00000"/>
<circle cx="602.22" cy="946.72" r="4.6" fill="#C00000"/>
<circle cx="624.00" cy="964.71" r="4.6" fill="#C00000"/>
<circle cx="645.77" cy="970.57" r="4.6" fill="#C00000"/>
<circle cx="667.55" cy="941.95" r="4.6" fill="#C00000"/>
<circle cx="689.32" cy="954.62" r="4.6" fill="#C00000"/>
<circle cx="711.09" cy="948.36" r="4.6" fill="#C00000"/>
<circle cx="732.87" cy="951.35" r="4.6" fill="#C00000"/>
<circle cx="754.64" cy="954.22" r="4.6" fill="#C00000"/>
<circle cx="776.42" cy="954.62" r="4.6" fill="#C00000"/>
<circle cx="798.19" cy="954.22" r="4.6" fill="#C00000"/>
<circle cx="819.96" cy="941.68" r="4.6" fill="#C00000"/>
<circle cx="841.74" cy="961.98" r="4.6" fill="#C00000"/>
<circle cx="863.51" cy="963.34" r="4.6" fill="#C00000"/>
<text x="184.5" y="1107.30" text-anchor="end" font-size="12.5" font-weight="bold" fill="#222">0</text>
<text x="184.5" y="1080.05" text-anchor="end" font-size="12.5" font-weight="bold" fill="#222">5000</text>
<text x="184.5" y="1052.80" text-anchor="end" font-size="12.5" font-weight="bold" fill="#222">10000</text>
<text x="184.5" y="1025.55" text-anchor="end" font-size="12.5" font-weight="bold" fill="#222">15000</text>
<text x="184.5" y="998.30" text-anchor="end" font-size="12.5" font-weight="bold" fill="#222">20000</text>
<text x="184.5" y="971.05" text-anchor="end" font-size="12.5" font-weight="bold" fill="#222">25000</text>
<text x="184.5" y="943.80" text-anchor="end" font-size="12.5" font-weight="bold" fill="#222">30000</text>
<text x="184.5" y="916.55" text-anchor="end" font-size="12.5" font-weight="bold" fill="#222">35000</text>
<text x="184.5" y="889.30" text-anchor="end" font-size="12.5" font-weight="bold" fill="#222">40000</text>
<text x="888.3" y="889.30" font-size="12.5" font-weight="bold" letter-spacing="0.55" fill="#222">100.00</text>
<text x="888.3" y="916.55" font-size="12.5" font-weight="bold" letter-spacing="0.55" fill="#222">80.00</text>
<text x="888.3" y="943.80" font-size="12.5" font-weight="bold" letter-spacing="0.55" fill="#222">60.00</text>
<text x="888.3" y="971.05" font-size="12.5" font-weight="bold" letter-spacing="0.55" fill="#222">40.00</text>
<text x="888.3" y="998.30" font-size="12.5" font-weight="bold" letter-spacing="0.55" fill="#222">20.00</text>
<text x="888.3" y="1025.55" font-size="12.5" font-weight="bold" letter-spacing="0.55" fill="#222">0.00</text>
<text x="888.3" y="1052.80" font-size="12.5" font-weight="bold" letter-spacing="0.55" fill="#222">-20.00</text>
<text x="888.3" y="1080.05" font-size="12.5" font-weight="bold" letter-spacing="0.55" fill="#222">-40.00</text>
<text x="888.3" y="1107.30" font-size="12.5" font-weight="bold" letter-spacing="0.55" fill="#222">-60.00</text>
<text x="210.29" y="1125.30" text-anchor="middle" font-size="12.8" font-weight="bold" fill="#1a1a1a" stroke="#1a1a1a" stroke-width="0.3">江</text>
<text x="210.29" y="1140.10" text-anchor="middle" font-size="12.8" font-weight="bold" fill="#1a1a1a" stroke="#1a1a1a" stroke-width="0.3">苏</text>
<text x="232.06" y="1125.30" text-anchor="middle" font-size="12.8" font-weight="bold" fill="#1a1a1a" stroke="#1a1a1a" stroke-width="0.3">广</text>
<text x="232.06" y="1140.10" text-anchor="middle" font-size="12.8" font-weight="bold" fill="#1a1a1a" stroke="#1a1a1a" stroke-width="0.3">东</text>
<text x="253.84" y="1125.30" text-anchor="middle" font-size="12.8" font-weight="bold" fill="#1a1a1a" stroke="#1a1a1a" stroke-width="0.3">湖</text>
<text x="253.84" y="1140.10" text-anchor="middle" font-size="12.8" font-weight="bold" fill="#1a1a1a" stroke="#1a1a1a" stroke-width="0.3">北</text>
<text x="275.61" y="1125.30" text-anchor="middle" font-size="12.8" font-weight="bold" fill="#1a1a1a" stroke="#1a1a1a" stroke-width="0.3">浙</text>
<text x="275.61" y="1140.10" text-anchor="middle" font-size="12.8" font-weight="bold" fill="#1a1a1a" stroke="#1a1a1a" stroke-width="0.3">江</text>
<text x="297.38" y="1125.30" text-anchor="middle" font-size="12.8" font-weight="bold" fill="#1a1a1a" stroke="#1a1a1a" stroke-width="0.3">山</text>
<text x="297.38" y="1140.10" text-anchor="middle" font-size="12.8" font-weight="bold" fill="#1a1a1a" stroke="#1a1a1a" stroke-width="0.3">东</text>
<text x="319.16" y="1125.30" text-anchor="middle" font-size="12.8" font-weight="bold" fill="#1a1a1a" stroke="#1a1a1a" stroke-width="0.3">四</text>
<text x="319.16" y="1140.10" text-anchor="middle" font-size="12.8" font-weight="bold" fill="#1a1a1a" stroke="#1a1a1a" stroke-width="0.3">川</text>
<text x="340.93" y="1125.30" text-anchor="middle" font-size="12.8" font-weight="bold" fill="#1a1a1a" stroke="#1a1a1a" stroke-width="0.3">北</text>
<text x="340.93" y="1140.10" text-anchor="middle" font-size="12.8" font-weight="bold" fill="#1a1a1a" stroke="#1a1a1a" stroke-width="0.3">京</text>
<text x="362.71" y="1125.30" text-anchor="middle" font-size="12.8" font-weight="bold" fill="#1a1a1a" stroke="#1a1a1a" stroke-width="0.3">福</text>
<text x="362.71" y="1140.10" text-anchor="middle" font-size="12.8" font-weight="bold" fill="#1a1a1a" stroke="#1a1a1a" stroke-width="0.3">建</text>
<text x="384.48" y="1125.30" text-anchor="middle" font-size="12.8" font-weight="bold" fill="#1a1a1a" stroke="#1a1a1a" stroke-width="0.3">湖</text>
<text x="384.48" y="1140.10" text-anchor="middle" font-size="12.8" font-weight="bold" fill="#1a1a1a" stroke="#1a1a1a" stroke-width="0.3">南</text>
<text x="406.25" y="1125.30" text-anchor="middle" font-size="12.8" font-weight="bold" fill="#1a1a1a" stroke="#1a1a1a" stroke-width="0.3">上</text>
<text x="406.25" y="1140.10" text-anchor="middle" font-size="12.8" font-weight="bold" fill="#1a1a1a" stroke="#1a1a1a" stroke-width="0.3">海</text>
<text x="428.03" y="1125.30" text-anchor="middle" font-size="12.8" font-weight="bold" fill="#1a1a1a" stroke="#1a1a1a" stroke-width="0.3">陕</text>
<text x="428.03" y="1140.10" text-anchor="middle" font-size="12.8" font-weight="bold" fill="#1a1a1a" stroke="#1a1a1a" stroke-width="0.3">西</text>
<text x="449.80" y="1125.30" text-anchor="middle" font-size="12.8" font-weight="bold" fill="#1a1a1a" stroke="#1a1a1a" stroke-width="0.3">安</text>
<text x="449.80" y="1140.10" text-anchor="middle" font-size="12.8" font-weight="bold" fill="#1a1a1a" stroke="#1a1a1a" stroke-width="0.3">徽</text>
<text x="471.58" y="1125.30" text-anchor="middle" font-size="12.8" font-weight="bold" fill="#1a1a1a" stroke="#1a1a1a" stroke-width="0.3">河</text>
<text x="471.58" y="1140.10" text-anchor="middle" font-size="12.8" font-weight="bold" fill="#1a1a1a" stroke="#1a1a1a" stroke-width="0.3">南</text>
<text x="493.35" y="1125.30" text-anchor="middle" font-size="12.8" font-weight="bold" fill="#1a1a1a" stroke="#1a1a1a" stroke-width="0.3">江</text>
<text x="493.35" y="1140.10" text-anchor="middle" font-size="12.8" font-weight="bold" fill="#1a1a1a" stroke="#1a1a1a" stroke-width="0.3">西</text>
<text x="515.13" y="1125.30" text-anchor="middle" font-size="12.8" font-weight="bold" fill="#1a1a1a" stroke="#1a1a1a" stroke-width="0.3">重</text>
<text x="515.13" y="1140.10" text-anchor="middle" font-size="12.8" font-weight="bold" fill="#1a1a1a" stroke="#1a1a1a" stroke-width="0.3">庆</text>
<text x="536.90" y="1125.30" text-anchor="middle" font-size="12.8" font-weight="bold" fill="#1a1a1a" stroke="#1a1a1a" stroke-width="0.3">天</text>
<text x="536.90" y="1140.10" text-anchor="middle" font-size="12.8" font-weight="bold" fill="#1a1a1a" stroke="#1a1a1a" stroke-width="0.3">津</text>
<text x="558.67" y="1125.30" text-anchor="middle" font-size="12.8" font-weight="bold" fill="#1a1a1a" stroke="#1a1a1a" stroke-width="0.3">河</text>
<text x="558.67" y="1140.10" text-anchor="middle" font-size="12.8" font-weight="bold" fill="#1a1a1a" stroke="#1a1a1a" stroke-width="0.3">北</text>
<text x="580.45" y="1125.30" text-anchor="middle" font-size="12.8" font-weight="bold" fill="#1a1a1a" stroke="#1a1a1a" stroke-width="0.3">云</text>
<text x="580.45" y="1140.10" text-anchor="middle" font-size="12.8" font-weight="bold" fill="#1a1a1a" stroke="#1a1a1a" stroke-width="0.3">南</text>
<text x="602.22" y="1125.30" text-anchor="middle" font-size="12.8" font-weight="bold" fill="#1a1a1a" stroke="#1a1a1a" stroke-width="0.3">山</text>
<text x="602.22" y="1140.10" text-anchor="middle" font-size="12.8" font-weight="bold" fill="#1a1a1a" stroke="#1a1a1a" stroke-width="0.3">西</text>
<text x="624.00" y="1125.30" text-anchor="middle" font-size="12.8" font-weight="bold" fill="#1a1a1a" stroke="#1a1a1a" stroke-width="0.3">广</text>
<text x="624.00" y="1140.10" text-anchor="middle" font-size="12.8" font-weight="bold" fill="#1a1a1a" stroke="#1a1a1a" stroke-width="0.3">西</text>
<text x="645.77" y="1125.30" text-anchor="middle" font-size="12.8" font-weight="bold" fill="#1a1a1a" stroke="#1a1a1a" stroke-width="0.3">贵</text>
<text x="645.77" y="1140.10" text-anchor="middle" font-size="12.8" font-weight="bold" fill="#1a1a1a" stroke="#1a1a1a" stroke-width="0.3">州</text>
<text x="667.55" y="1125.30" text-anchor="middle" font-size="12.8" font-weight="bold" fill="#1a1a1a" stroke="#1a1a1a" stroke-width="0.3">辽</text>
<text x="667.55" y="1140.10" text-anchor="middle" font-size="12.8" font-weight="bold" fill="#1a1a1a" stroke="#1a1a1a" stroke-width="0.3">宁</text>
<text x="689.32" y="1125.30" text-anchor="middle" font-size="12.8" font-weight="bold" fill="#1a1a1a" stroke="#1a1a1a" stroke-width="0.3">新</text>
<text x="689.32" y="1140.10" text-anchor="middle" font-size="12.8" font-weight="bold" fill="#1a1a1a" stroke="#1a1a1a" stroke-width="0.3">疆</text>
<text x="711.09" y="1125.30" text-anchor="middle" font-size="12.8" font-weight="bold" fill="#1a1a1a" stroke="#1a1a1a" stroke-width="0.3">甘</text>
<text x="711.09" y="1140.10" text-anchor="middle" font-size="12.8" font-weight="bold" fill="#1a1a1a" stroke="#1a1a1a" stroke-width="0.3">肃</text>
<text x="732.87" y="1125.30" text-anchor="middle" font-size="12.8" font-weight="bold" fill="#1a1a1a" stroke="#1a1a1a" stroke-width="0.3">吉</text>
<text x="732.87" y="1140.10" text-anchor="middle" font-size="12.8" font-weight="bold" fill="#1a1a1a" stroke="#1a1a1a" stroke-width="0.3">林</text>
<text x="754.64" y="1125.30" text-anchor="middle" font-size="12.8" font-weight="bold" fill="#1a1a1a" stroke="#1a1a1a" stroke-width="0.3">内</text>
<text x="754.64" y="1140.10" text-anchor="middle" font-size="12.8" font-weight="bold" fill="#1a1a1a" stroke="#1a1a1a" stroke-width="0.3">蒙</text>
<text x="754.64" y="1154.90" text-anchor="middle" font-size="12.8" font-weight="bold" fill="#1a1a1a" stroke="#1a1a1a" stroke-width="0.3">古</text>
<text x="776.42" y="1125.30" text-anchor="middle" font-size="12.8" font-weight="bold" fill="#1a1a1a" stroke="#1a1a1a" stroke-width="0.3">黑</text>
<text x="776.42" y="1140.10" text-anchor="middle" font-size="12.8" font-weight="bold" fill="#1a1a1a" stroke="#1a1a1a" stroke-width="0.3">龙</text>
<text x="776.42" y="1154.90" text-anchor="middle" font-size="12.8" font-weight="bold" fill="#1a1a1a" stroke="#1a1a1a" stroke-width="0.3">江</text>
<text x="798.19" y="1125.30" text-anchor="middle" font-size="12.8" font-weight="bold" fill="#1a1a1a" stroke="#1a1a1a" stroke-width="0.3">青</text>
<text x="798.19" y="1140.10" text-anchor="middle" font-size="12.8" font-weight="bold" fill="#1a1a1a" stroke="#1a1a1a" stroke-width="0.3">海</text>
<text x="819.96" y="1125.30" text-anchor="middle" font-size="12.8" font-weight="bold" fill="#1a1a1a" stroke="#1a1a1a" stroke-width="0.3">宁</text>
<text x="819.96" y="1140.10" text-anchor="middle" font-size="12.8" font-weight="bold" fill="#1a1a1a" stroke="#1a1a1a" stroke-width="0.3">夏</text>
<text x="841.74" y="1125.30" text-anchor="middle" font-size="12.8" font-weight="bold" fill="#1a1a1a" stroke="#1a1a1a" stroke-width="0.3">海</text>
<text x="841.74" y="1140.10" text-anchor="middle" font-size="12.8" font-weight="bold" fill="#1a1a1a" stroke="#1a1a1a" stroke-width="0.3">南</text>
<text x="863.51" y="1125.30" text-anchor="middle" font-size="12.8" font-weight="bold" fill="#1a1a1a" stroke="#1a1a1a" stroke-width="0.3">西</text>
<text x="863.51" y="1140.10" text-anchor="middle" font-size="12.8" font-weight="bold" fill="#1a1a1a" stroke="#1a1a1a" stroke-width="0.3">藏</text>
<rect x="203.4" y="1174.5" width="27.7" height="8.7" fill="#FF4D4A"/>
<text x="234" y="1183.3" font-size="14.5" font-weight="bold" stroke="#1a1a1a" stroke-width="0.25" letter-spacing="0.95" fill="#222">本年新签合同额（亿元）</text>
<line x1="420.1" y1="1178.9" x2="448.5" y2="1178.9" stroke="#C00000" stroke-width="2.1"/>
<circle cx="434" cy="1178.9" r="4.3" fill="#C00000"/>
<text x="451.5" y="1183.3" font-size="14.5" font-weight="bold" stroke="#1a1a1a" stroke-width="0.25" letter-spacing="0.8" fill="#222">新签合同额占签订合同额比重（%）</text>
<line x1="707.4" y1="1178.9" x2="735.1" y2="1178.9" stroke="#0E2157" stroke-width="2.1"/>
<path d="M721.8 1174.3000000000002L726.4 1178.9L721.8 1183.5L717.1999999999999 1178.9Z" fill="#0E2157"/>
<text x="738.2" y="1183.3" font-size="14.5" font-weight="bold" stroke="#1a1a1a" stroke-width="0.25" letter-spacing="0.7" fill="#222">新签合同额增速（%）</text>
</svg>
<div class="cap" style="left:290px;top:493px;width:489.5px;text-align:justify;text-align-last:justify;">图 19　2023 年各地区建筑业企业签订合同额及增速</div>
<div class="h" style="left:190px;top:541px;width:687.5px;text-align:justify;text-align-last:justify;">（五）江苏新签合同额超过 <b>3.7</b> 万亿元　<b>14</b> 个地区出现负增长</div>
<div class="body" style="left:190px;top:596.5px;width:740px;text-align:justify;text-align-last:justify;">2023 年，江苏建筑业企业新签合同额达到 37800.49 亿元，比上年增</div><div class="body" style="left:140px;top:654.5px;width:790px;text-align:justify;text-align-last:justify;">长 12.1%。新签合同额超过 2 万亿元的还有广东、湖北、浙江、山东、</div><div class="body" style="left:140px;top:710px;width:790px;text-align:justify;text-align-last:justify;">四川等 5 个地区。新签合同额增速超过 10%的有青海、海南、西藏、江</div><div class="body" style="left:140px;top:767px;width:790px;text-align:justify;text-align-last:justify;">苏等 4 个地区，14 个地区新签合同额出现负增长，其中广西、贵州、新</div><div class="body" style="left:140px;top:824px;width:578px;text-align:justify;text-align-last:justify;">疆新签合同额均出现了超过 10%的负增长（图 20）。</div><div class="body" style="left:190px;top:1317px;width:740px;text-align:justify;text-align-last:justify;">2023 年，江苏、山东、广东、浙江、河南五省建筑业企业数量均超</div>
<div class="cap" style="left:290px;top:1214px;width:489.5px;text-align:justify;text-align-last:justify;">图 20　2023 年各地区建筑业企业新签合同额及增速</div>
<div class="h" style="left:190px;top:1262px;width:432px;text-align:justify;text-align-last:justify;">（六）五省建筑业企业数量超过 <b>1</b> 万家</div>
<div class="pn" style="left:526px;top:1397px;">17</div>
</body></html>
